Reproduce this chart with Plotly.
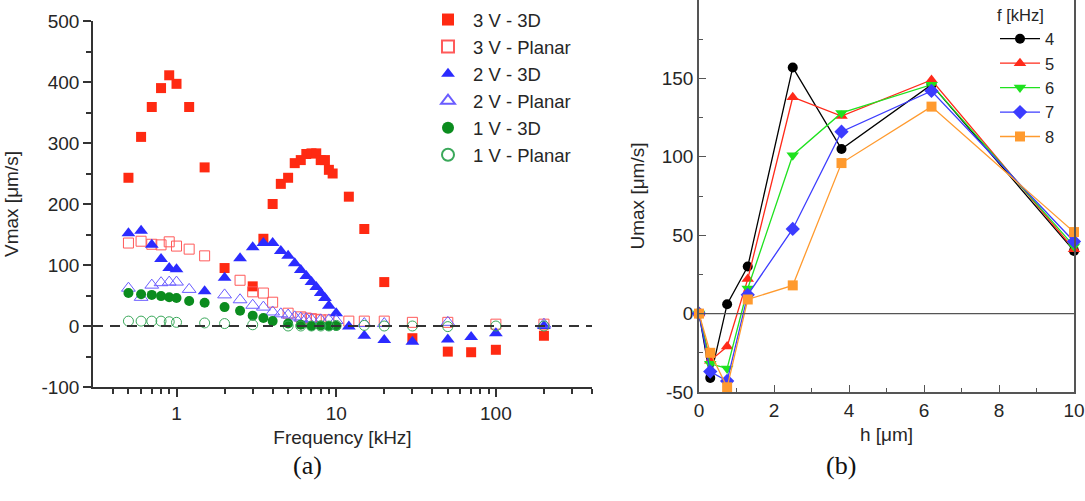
import plotly.graph_objects as go

# ---------- panel (a) data ----------
f_3v3d = [0.5,0.6,0.7,0.8,0.9,1.0,1.2,1.5,2,3,3.5,4,4.5,5,5.5,6,6.5,7,7.5,8,8.5,9,9.5,12,15,20,30,50,70,100,200]
v_3v3d = [243,310,359,390,411,397,359,260,95,65,143,200,233,243,267,272,282,283,283,272,272,256,250,212,159,72,-20,-42,-43,-39,-16]

f_3vpl = [0.5,0.6,0.7,0.8,0.9,1.0,1.2,1.5,2.5,3,3.5,4,5,6,6.5,7,7.5,8,9,12,15,20,30,50,100,200]
v_3vpl = [136,139,134,133,138,131,126,115,75,56,54,39,21,15,13,12,11,10,10,8,8,8,6,6,3,3]

f_2v3d = [0.5,0.6,0.7,0.8,0.9,1.0,1.5,2,2.5,3,3.5,4,4.5,5,5.5,6,6.5,7,7.5,8,8.5,9,10,12,15,20,30,50,70,100,200]
v_2v3d = [152,156,133,110,95,93,57,79,111,129,136,136,123,115,103,92,82,72,64,54,46,33,21,-1,-16,-23,-26,-22,-18,-12,0]

f_2vpl = [0.5,0.6,0.7,0.8,0.9,1.0,1.2,2,2.5,3,3.5,4,4.5,5,5.5,6,6.5,7,8,9,10,15,20,50,200]
v_2vpl = [62,47,67,71,72,72,60,51,43,34,31,23,20,18,15,13,12,11,10,10,9,4,4,6,3]

f_1v3d = [0.5,0.6,0.7,0.8,0.9,1.0,1.2,1.5,2,2.5,3,3.5,4,5,6,7,8,9,10]
v_1v3d = [54,52,51,49,47,46,41,38,31,25,17,13,8,4,2,0,1,0,0]

f_1vpl = [0.5,0.6,0.7,0.8,0.9,1.0,1.5,2,3,5,6,7,8,9,10,15,20,30,50,100,200]
v_1vpl = [8,8,8,8,7,6,5,4,2,0,0,0,0,0,1,1,0,0,-1,0,0]

# ---------- panel (b) data ----------
h_um = [0, 0.3, 0.75, 1.3, 2.5, 3.8, 6.2, 10]
u_f4 = [0, -41, 6, 30, 157, 105, 146, 40]
u_f5 = [0, -30, -21, 22, 138, 126, 149, 41]
u_f6 = [0, -32, -35, 16, 101, 128, 146, 43]
u_f7 = [0, -37, -43, 12, 54, 116, 142, 46]
u_f8 = [0, -25, -47, 9, 18, 96, 132, 52]
freq_labels = ["4", "5", "6", "7", "8"]

# tick labels
a_yticks = [-100, 0, 100, 200, 300, 400, 500]
a_yticklabels = ["-100", "0", "100", "200", "300", "400", "500"]
a_xticks = [1, 10, 100]
a_xticklabels = ["1", "10", "100"]
b_yticks = [-50, 0, 50, 100, 150, 200]
b_yticklabels = ["-50", "0", "50", "100", "150", "200"]

FONT = "Liberation Sans, Arial, sans-serif"
TXT = "#262626"

fig = go.Figure()

left_series = [
    (f_3v3d, v_3v3d, "3 V - 3D", "square", "#ff2a12", True, 10),
    (f_3vpl, v_3vpl, "3 V - Planar", "square-open", "#ff5a5a", False, 10),
    (f_2v3d, v_2v3d, "2 V - 3D", "triangle-up", "#2b2bff", True, 12),
    (f_2vpl, v_2vpl, "2 V - Planar", "triangle-up-open", "#6a5cff", False, 12),
    (f_1v3d, v_1v3d, "1 V - 3D", "circle", "#0b8c1e", True, 10),
    (f_1vpl, v_1vpl, "1 V - Planar", "circle-open", "#3aa85a", False, 10),
]
for xs, ys, name, sym, col, filled, sz in left_series:
    fig.add_trace(go.Scatter(
        x=xs, y=ys, mode="markers", name=name,
        marker=dict(symbol=sym, color=col, size=sz, line=dict(width=1 if not filled else 0, color=col)),
        xaxis="x", yaxis="y", legend="legend", cliponaxis=False,
    ))

right_series = [
    (u_f4, "circle", "#000000", 10),
    (u_f5, "triangle-up", "#ff2a1a", 11),
    (u_f6, "triangle-down", "#1fe21f", 11),
    (u_f7, "diamond", "#3c3cff", 11),
    (u_f8, "square", "#ff9a2e", 10),
]
for (ys, sym, col, sz), lab in zip(right_series, freq_labels):
    fig.add_trace(go.Scatter(
        x=h_um, y=ys, mode="lines+markers", name=lab,
        line=dict(color=col, width=1.3),
        marker=dict(symbol=sym, color=col, size=sz),
        xaxis="x2", yaxis="y2", legend="legend2", cliponaxis=False,
    ))

W, H = 1085, 501
minor_log = [0.4,0.5,0.6,0.7,0.8,0.9,2,3,4,5,6,7,8,9,20,30,40,50,60,70,80,90,200,300,400]

fig.update_layout(
    width=W, height=H,
    margin=dict(l=0, r=0, t=0, b=0, autoexpand=False),
    paper_bgcolor="white", plot_bgcolor="white",
    font=dict(family=FONT, color=TXT, size=19),
    xaxis=dict(
        domain=[93/W, 592/W], type="log", range=[-0.523, 2.602],
        tickvals=a_xticks, ticktext=a_xticklabels,
        ticks="outside", ticklen=8, tickwidth=1.5, tickcolor="#333",
        minor=dict(tickvals=minor_log, ticks="outside", ticklen=5, tickwidth=1.5, tickcolor="#333"),
        showline=True, linecolor="#333", linewidth=1.5, showgrid=False, zeroline=False,
        title=dict(text="Frequency [kHz]", standoff=8, font=dict(size=19)),
        anchor="y", tickfont=dict(size=19), automargin=False,
    ),
    yaxis=dict(
        domain=[1 - 387/H, 1 - 21/H], range=[-100, 500],
        tickvals=a_yticks, ticktext=a_yticklabels,
        ticks="outside", ticklen=8, tickwidth=1.5, tickcolor="#333",
        minor=dict(dtick=50, ticks="outside", ticklen=5, tickwidth=1.5, tickcolor="#333"),
        showline=True, linecolor="#333", linewidth=1.5, showgrid=False, zeroline=False,
        title=dict(text="Vmax [μm/s]", standoff=18, font=dict(size=19)),
        anchor="x", tickfont=dict(size=19), automargin=False,
    ),
    xaxis2=dict(
        domain=[699/W, 1074/W], range=[0, 10], dtick=2,
        ticks="inside", ticklen=7, tickwidth=1.2, tickcolor="#555",
        minor=dict(dtick=1, ticks="inside", ticklen=4, tickwidth=1.2, tickcolor="#555"),
        showline=True, mirror=True, linecolor="#555", linewidth=1.5, showgrid=False, zeroline=False,
        title=dict(text="h [μm]", standoff=8, font=dict(size=19)),
        anchor="y2", tickfont=dict(size=19), automargin=False,
    ),
    yaxis2=dict(
        domain=[1 - 392/H, 1.0], range=[-50, 200],
        tickvals=b_yticks, ticktext=b_yticklabels,
        ticks="inside", ticklen=7, tickwidth=1.2, tickcolor="#555",
        minor=dict(dtick=25, ticks="inside", ticklen=4, tickwidth=1.2, tickcolor="#555"),
        showline=True, mirror=True, linecolor="#555", linewidth=1.5, showgrid=False, zeroline=False,
        title=dict(text="Umax [μm/s]", standoff=12, font=dict(size=19)),
        anchor="x2", tickfont=dict(size=19), automargin=False,
    ),
    legend=dict(
        x=423/W, y=1 - 1/H, xanchor="left", yanchor="top",
        bgcolor="rgba(0,0,0,0)", font=dict(size=18.5), tracegroupgap=0,
        itemsizing="constant", itemwidth=40,
    ),
    legend2=dict(
        x=995/W, y=1.0, xanchor="left", yanchor="top",
        bgcolor="rgba(0,0,0,0)", font=dict(size=16.5), itemwidth=40,
        title=dict(text="f [kHz]", font=dict(size=16.5)),
    ),
    showlegend=True,
)

# dashed zero line in panel (a)
fig.add_shape(type="line", xref="x domain", yref="y", x0=0, x1=1, y0=0, y1=0,
              line=dict(color="#333", width=2, dash="10px,7px"))
# solid zero line in panel (b)
fig.add_shape(type="line", xref="x2 domain", yref="y2", x0=0, x1=1, y0=0, y1=0,
              line=dict(color="#555", width=1.3))

fig.add_annotation(text="(a)", x=291/W, y=1 - 482/H, xref="paper", yref="paper",
                   showarrow=False, font=dict(family="Liberation Serif, Times New Roman, serif", size=26, color="#111"))
fig.add_annotation(text="(b)", x=858/W, y=1 - 482/H, xref="paper", yref="paper",
                   showarrow=False, font=dict(family="Liberation Serif, Times New Roman, serif", size=26, color="#111"))

fig.write_html("out.html", config={"displayModeBar": False},
               post_script="document.body.style.margin='0';document.body.style.padding='0';document.body.style.overflow='hidden';")
